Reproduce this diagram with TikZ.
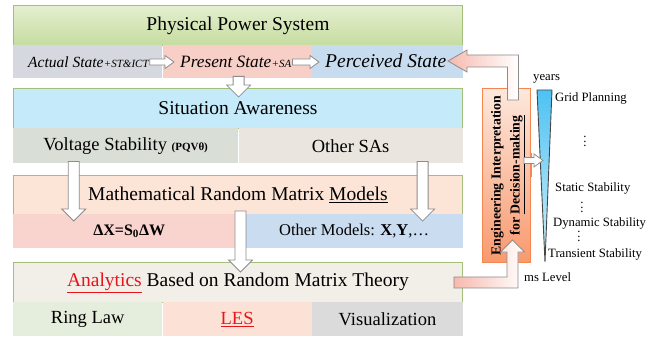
\documentclass[tikz,border=0pt]{standalone}
\usepackage{fontspec}
\setmainfont{Liberation Serif}
\usetikzlibrary{calc,positioning}

\definecolor{layer-green}{HTML}{A3BF7A}
\definecolor{pps-top}{HTML}{E4EFD0}
\definecolor{pps-bottom}{HTML}{C6DCA0}
\definecolor{sa-fill}{HTML}{C5EBFA}
\definecolor{model-fill}{HTML}{FCE4D6}
\definecolor{rmt-fill}{HTML}{F2EEE8}
\definecolor{actual-fill}{HTML}{D5D8DF}
\definecolor{present-fill}{HTML}{F8CFC6}
\definecolor{perceived-fill}{HTML}{C8DCEF}
\definecolor{voltage-fill}{HTML}{D9DFD6}
\definecolor{othersa-fill}{HTML}{EAE6DF}
\definecolor{delta-fill}{HTML}{F9D3CD}
\definecolor{othermodel-fill}{HTML}{CADCF0}
\definecolor{ring-fill}{HTML}{E5EDDC}
\definecolor{les-fill}{HTML}{FCE2D6}
\definecolor{vis-fill}{HTML}{DBDBDB}
\definecolor{eng-top}{HTML}{FDE8DD}
\definecolor{eng-bottom}{HTML}{F8996E}
\definecolor{eng-border}{HTML}{F5864F}
\definecolor{arrow-gray}{HTML}{8C8C8C}
\definecolor{arrow-pink}{HTML}{F7B9AE}
\definecolor{wedge-top}{HTML}{4EC2F2}
\definecolor{wedge-bottom}{HTML}{D2EFFB}
\definecolor{hl-red}{HTML}{E8141B}

\newcommand{\fsz}[1]{\fontsize{#1pt}{1.2\dimexpr#1pt\relax}\selectfont}
% vertical dots without the top kern of \vdots
\newcommand{\dotstack}{\vbox{\baselineskip4.5pt\lineskiplimit0pt\hbox{.}\hbox{.}\hbox{.}}}

% hollow block arrows: pointing right (small) and pointing down (large)
\newcommand{\blockright}[2]{%
  \draw[hollow] let \p1=(#1), \p2=(#2) in
    (\x1,\y1+3pt) -- (\x2-9pt,\y1+3pt) -- (\x2-9pt,\y1+6.5pt) -- (\x2,\y1)
    -- (\x2-9pt,\y1-6.5pt) -- (\x2-9pt,\y1-3pt) -- (\x1,\y1-3pt) -- cycle;}
\newcommand{\blockdown}[2]{%
  \draw[hollow] let \p1=(#1), \p2=(#2) in
    (\x1-5.5pt,\y1) -- (\x1+5.5pt,\y1) -- (\x1+5.5pt,\y2+12pt) -- (\x1+12pt,\y2+12pt)
    -- (\x1,\y2) -- (\x1-12pt,\y2+12pt) -- (\x1-5.5pt,\y2+12pt) -- cycle;}

\tikzset{
  layer/.style={draw=layer-green, line width=0.9pt, anchor=north west, minimum width=449,
    minimum height=40, inner sep=0, font=\fsz{19.5}},
  cell/.style={anchor=north west, minimum height=34, inner sep=0, font=\fsz{18.5}},
  statetxt/.style={anchor=base west, inner sep=0},
  hollow/.style={draw=arrow-gray, line width=0.8pt, fill=white, line join=miter},
  engbox/.style={draw=eng-border, line width=0.9pt, top color=eng-top, bottom color=eng-bottom,
    anchor=north west, inner sep=0},
  wedge/.style={draw=gray!55!black, line width=0.9pt, top color=wedge-top, bottom color=wedge-bottom},
  scalelabel/.style={anchor=west, inner sep=0, font=\fsz{12.7}},
  vdotsnode/.style={anchor=south, inner sep=0, font=\fsz{12.7}}
}

\begin{document}
\begin{tikzpicture}[x=1pt, y=-1pt]
  \useasboundingbox (0,0) rectangle (659,337);

  % physical layer and the three states
  \node[layer, top color=pps-top, bottom color=pps-bottom] (pps) at (13,5) {Physical Power System};
  \node[cell, fill=actual-fill, minimum width=149, minimum height=33] (actual) at (13,45) {};
  \node[cell, fill=present-fill, minimum width=149, minimum height=33] (present) at (actual.north east) {};
  \node[cell, fill=perceived-fill, minimum width=151, minimum height=33] (perceived) at (present.north east) {};

  \node[statetxt, font=\fsz{15.5}\itshape] (actualtxt) at (28,68) {Actual State};
  \node[statetxt, font=\fsz{11}\itshape] (stsub) at (actualtxt.base east) {+ST\&ICT};
  \node[statetxt, font=\fsz{17.3}\itshape] (presenttxt) at (180,68) {Present State};
  \node[statetxt, font=\fsz{11}\itshape] (sasub) at (presenttxt.base east) {+SA};
  \node[statetxt, font=\fsz{19.5}\itshape] (perceivedtxt) at (325,68) {Perceived State};

  % situation awareness
  \node[layer, fill=sa-fill] (sa) at (13,88) {Situation Awareness};
  \node[cell, fill=voltage-fill, minimum width=225, minimum height=35] (voltage) at (13,128)
    {Voltage Stability \textbf{\fsz{11}(PQVθ)}};
  \node[cell, fill=othersa-fill, minimum width=224, minimum height=35] (othersa) at (voltage.north east) {Other SAs};

  % random matrix models
  \node[layer, fill=model-fill, minimum height=39] (model) at (13,175) {Mathematical Random Matrix \underline{Models}};
  \node[cell, fill=delta-fill, minimum width=232, font=\fsz{16}] (delta) at (13,214)
    {\textbf{ΔX=S\textsubscript{0}ΔW}};
  \node[cell, fill=othermodel-fill, minimum width=217, font=\fsz{16.5}] (othermodel) at (delta.north east)
    {Other Models: \textbf{X},\textbf{Y},…};

  % analytics
  \node[layer, fill=rmt-fill] (rmt) at (13,262)
    {\textcolor{hl-red}{\underline{Analytics}} Based on Random Matrix Theory};
  \node[cell, fill=ring-fill, minimum width=149] (ring) at (13,302) {Ring Law};
  \node[cell, fill=les-fill, minimum width=149] (les) at (ring.north east) {\textcolor{hl-red}{\underline{LES}}};
  \node[cell, fill=vis-fill, minimum width=151] (vis) at (les.north east) {Visualization};

  % engineering interpretation
  \node[engbox, minimum width=48, minimum height=174] (eng) at (482,88) {};
  \node[rotate=90, align=center, inner sep=0, font=\fontsize{13.8pt}{19pt}\selectfont\bfseries] (engtxt)
    at ($(eng.center)+(1.5,0)$) {Engineering Interpretation\\for \underline{Decision-making}};
  \draw[eng-border, line width=2pt] ($(eng.east)+(0,-22)$) -- ($(eng.east)+(0,2)$);

  % time scale wedge
  \coordinate (wedge-l) at (537,90);
  \coordinate (wedge-r) at (552,90);
  \coordinate (wedge-tip) at (545,262);
  \draw[wedge] (wedge-l) -- (wedge-r) -- (wedge-tip) -- cycle;

  \node[scalelabel] (years) at (533,79) {years};
  \node[scalelabel] (grid) at (555,98) {Grid Planning};
  \node[vdotsnode] (dotsa) at (585,147) {\dotstack};
  \node[scalelabel] (static) at (555,188) {Static Stability};
  \node[vdotsnode] (dotsb) at (582,213) {\dotstack};
  \node[scalelabel] (dynamic) at (553,223) {Dynamic Stability};
  \node[vdotsnode] (dotsc) at (579,242) {\dotstack};
  \node[scalelabel] (transient) at (548,254) {Transient Stability};
  \node[scalelabel] (mslevel) at (524,277) {ms Level};

  % arrows between the layers
  \blockright{$(stsub.base east)+(1,-6)$}{$(presenttxt.base west)+(-6,-6)$}
  \blockright{$(sasub.base east)+(1,-6)$}{$(perceivedtxt.base west)+(-6,-6)$}
  \blockdown{$(present.south)+(1.5,-2)$}{$(sa.north)+(0,9)$}
  \blockdown{$(voltage.south)+(-52,-2)$}{$(delta.north)+(0,7)$}
  \blockdown{$(othersa.south)+(72,-2)$}{$(othermodel.north)+(0,7)$}
  \blockdown{$(model.south)+(2.5,-4)$}{$(rmt.north)+(0,10)$}
  \coordinate (scalein) at (543,160);
  \blockright{$(eng.east)+(-7,-15)$}{scalein}

  % analytics up into the engineering box
  \coordinate (upstart) at ($(rmt.east)+(-9,0)$);
  \coordinate (uptip) at (512.5,240);
  \draw[hollow, left color=arrow-pink, right color=white] let \p1=(upstart), \p2=(uptip) in
    (\x1,\y1+5.5pt) -- (\x2-5.5pt,\y1+5.5pt) -- (\x2-5.5pt,\y2-12pt) -- (\x2-12pt,\y2-12pt)
    -- (\x2,\y2) -- (\x2+12pt,\y2-12pt) -- (\x2+5.5pt,\y2-12pt) -- (\x2+5.5pt,\y1-5.5pt)
    -- (\x1,\y1-5.5pt) -- cycle;

  % engineering box back to the perceived state
  \coordinate (backstart) at (513,100);
  \coordinate (backtip) at (448,61);
  \draw[hollow, left color=arrow-pink, right color=white] let \p1=(backstart), \p2=(backtip) in
    (\x1-5.5pt,\y1) -- (\x1-5.5pt,\y2-6pt) -- (\x2+19pt,\y2-6pt) -- (\x2+19pt,\y2-11pt)
    -- (\x2,\y2) -- (\x2+19pt,\y2+11pt) -- (\x2+19pt,\y2+6pt) -- (\x1+5.5pt,\y2+6pt)
    -- (\x1+5.5pt,\y1) -- cycle;
\end{tikzpicture}
\end{document}
